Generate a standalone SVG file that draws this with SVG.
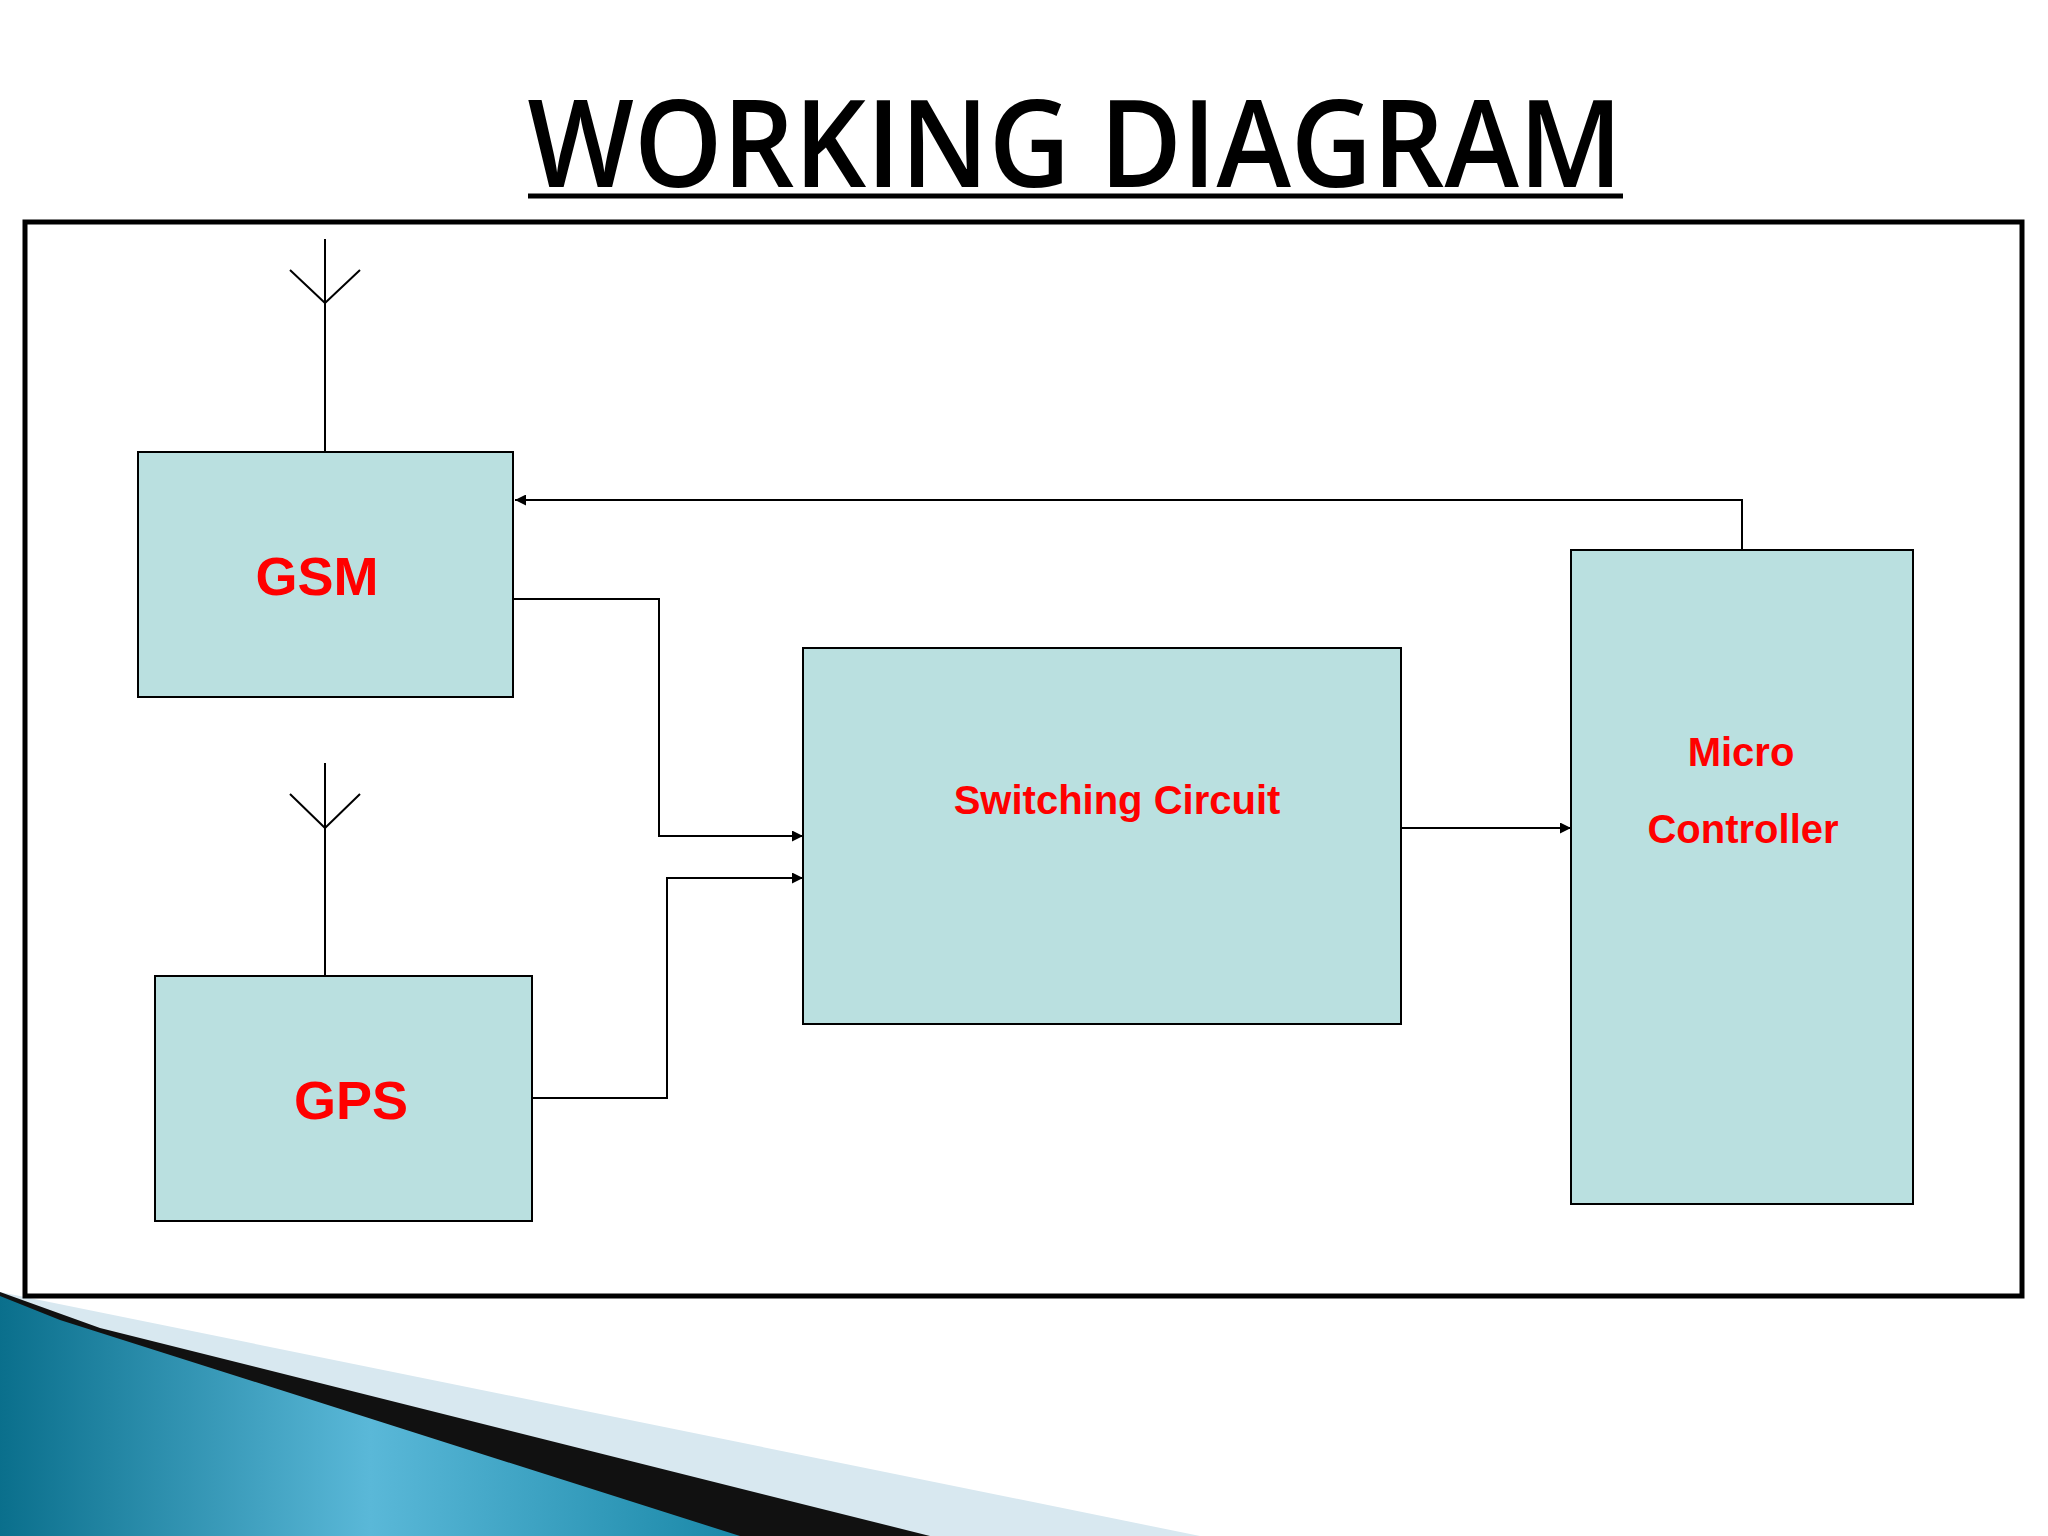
<svg xmlns="http://www.w3.org/2000/svg" width="2048" height="1536" viewBox="0 0 2048 1536">
<defs>
<style>
.box{fill:#bae0e0;stroke:#000;stroke-width:2}
.ln{fill:none;stroke:#000;stroke-width:2}
.lbl{font-family:"Liberation Sans",Arial,sans-serif;font-weight:bold;fill:#f00;text-anchor:middle}
</style>
<marker id="ar" viewBox="0 0 10 10" refX="10" refY="5" markerWidth="12" markerHeight="11" markerUnits="userSpaceOnUse" orient="auto"><path d="M0,0L10,5L0,10z" fill="#000"/></marker>
<linearGradient id="g" x1="0" y1="0" x2="1" y2="0"><stop offset="0" stop-color="#0a6f8c"/><stop offset="0.5" stop-color="#5ab8d8"/><stop offset="1" stop-color="#1a88a8"/></linearGradient>
</defs>
<rect width="2048" height="1536" fill="#fff"/>
<g id="decor">
<polygon points="0,1292 1200,1536 0,1536" fill="#d8e8f0"/>
<polygon points="0,1292 100,1328 930,1536 0,1536" fill="#111"/>
<polygon points="0,1296 60,1320 740,1536 0,1536" fill="url(#g)"/>
</g>
<text x="1075" y="187" font-family="'Open Sans','DejaVu Sans',sans-serif" font-weight="600" font-size="122" text-anchor="middle" textLength="1095" lengthAdjust="spacingAndGlyphs" fill="#000">WORKING DIAGRAM</text>
<line x1="528" y1="196" x2="1623" y2="196" stroke="#000" stroke-width="5"/>
<rect x="25" y="222" width="1997" height="1074" fill="none" stroke="#000" stroke-width="5"/>
<g id="gsm"><rect class="box" x="138" y="452" width="375" height="245"/><text class="lbl" x="317" y="595" font-size="54">GSM</text>
<path class="ln" d="M325,452V239M325,303L290,270M325,303L360,270"/></g>
<g id="gps"><rect class="box" x="155" y="976" width="377" height="245"/><text class="lbl" x="351" y="1119" font-size="54">GPS</text>
<path class="ln" d="M325,976V763M325,828L290,794M325,828L360,794"/></g>
<g id="switch"><rect class="box" x="803" y="648" width="598" height="376"/><text class="lbl" x="1117" y="814" font-size="40">Switching Circuit</text></g>
<g id="micro"><rect class="box" x="1571" y="550" width="342" height="654"/><text class="lbl" x="1741" y="766" font-size="40">Micro</text><text class="lbl" x="1743" y="843" font-size="40">Controller</text></g>
<g id="connectors">
<path class="ln" d="M1742,550V500H515" marker-end="url(#ar)"/>
<path class="ln" d="M513,599H659V836H803" marker-end="url(#ar)"/>
<path class="ln" d="M532,1098H667V878H803" marker-end="url(#ar)"/>
<path class="ln" d="M1401,828H1571" marker-end="url(#ar)"/>
</g>
</svg>
